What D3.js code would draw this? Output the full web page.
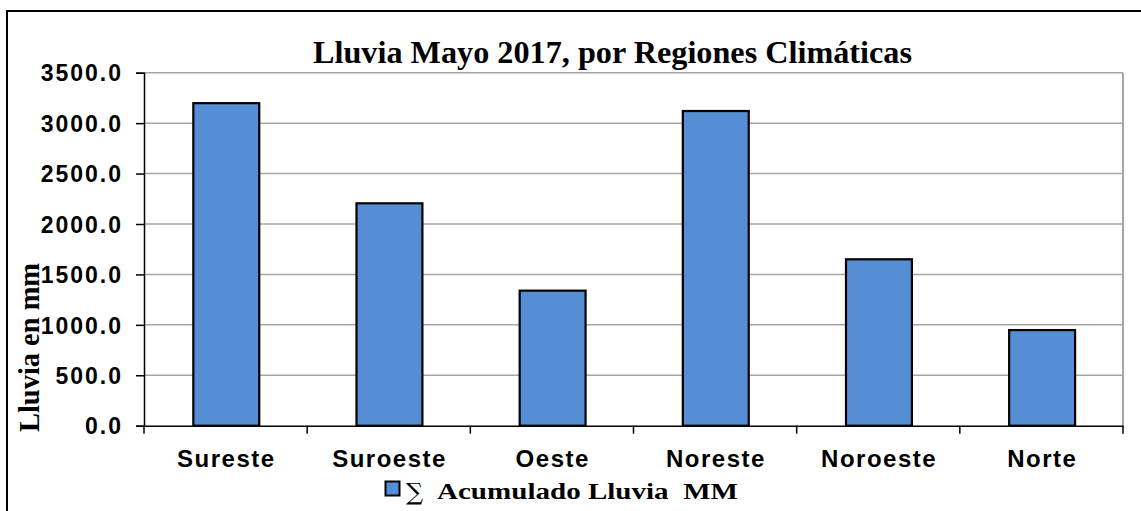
<!DOCTYPE html>
<html>
<head>
<meta charset="utf-8">
<script src="https://cdn.jsdelivr.net/npm/d3@7"></script>
<style>
  html, body { margin: 0; padding: 0; background: #fff; }
  svg { display: block; }
</style>
</head>
<body>
<svg id="chart" width="1141" height="511"></svg>
<script>
const categories = ["Sureste", "Suroeste", "Oeste", "Noreste", "Noroeste", "Norte"];
const values = [3198, 2205, 1339, 3120, 1650, 948];
const yTicks = [0, 500, 1000, 1500, 2000, 2500, 3000, 3500];
const titleText = "Lluvia Mayo 2017, por Regiones Climáticas";
const yTitleText = "Lluvia en mm";
const legendText = "Acumulado Lluvia  MM";

const svg = d3.select("#chart");
const W = 1141, H = 511;
const plot = { left: 144, right: 1123, top: 72.7, bottom: 425.7 };

svg.append("rect").attr("width", W).attr("height", H).attr("fill", "#fff");
// outer chart border (top & left visible)
svg.append("rect")
  .attr("x", 7).attr("y", 11).attr("width", 1300).attr("height", 700)
  .attr("fill", "none").attr("stroke", "#000").attr("stroke-width", 2);

const x = d3.scaleBand().domain(categories).range([plot.left, plot.right]).padding(0);
const y = d3.scaleLinear().domain([0, 3500]).range([plot.bottom, plot.top]);

// gridlines
svg.append("g").selectAll("line").data(yTicks.filter(t => t > 0)).join("line")
  .attr("x1", plot.left).attr("x2", plot.right)
  .attr("y1", d => y(d)).attr("y2", d => y(d))
  .attr("stroke", "#a6a6a6").attr("stroke-width", 1.5);
// right border of plot area
svg.append("line")
  .attr("x1", plot.right).attr("x2", plot.right)
  .attr("y1", plot.top).attr("y2", plot.bottom)
  .attr("stroke", "#a6a6a6").attr("stroke-width", 2);

// bars
const bw = x.bandwidth() * 0.404;
svg.append("g").selectAll("rect").data(categories).join("rect")
  .attr("x", d => x(d) + (x.bandwidth() - bw) / 2 + 0.7)
  .attr("width", bw)
  .attr("y", (d, i) => y(values[i]))
  .attr("height", (d, i) => y(0) - y(values[i]))
  .attr("fill", "#558ed5")
  .attr("stroke", "#000").attr("stroke-width", 2.2);

// y axis
const yAxis = d3.axisLeft(y).tickValues(yTicks).tickSize(8).tickPadding(0).tickFormat(d3.format(".1f"));
const gy = svg.append("g").attr("transform", `translate(${plot.left},0)`).call(yAxis);
gy.select(".domain").attr("stroke", "#000").attr("stroke-width", 1.5);
gy.selectAll(".tick line").attr("stroke", "#000").attr("stroke-width", 1.5);
gy.selectAll(".tick text")
  .attr("x", -21)
  .attr("dy", "0.36em")
  .attr("fill", "#000")
  .style("font-family", "'Liberation Sans', Arial, sans-serif")
  .style("font-weight", "bold")
  .style("font-size", "23px")
  .style("letter-spacing", "2px");

// x axis
const xAxis = d3.axisBottom(x).tickSize(0).tickPadding(0);
const gx = svg.append("g").attr("transform", `translate(0,${plot.bottom})`).call(xAxis);
gx.select(".domain").attr("stroke", "#000").attr("stroke-width", 1.5);
gx.selectAll(".tick text")
  .attr("y", 41.3).attr("dy", null).attr("x", 0.8)
  .attr("fill", "#000")
  .style("font-family", "'Liberation Sans', Arial, sans-serif")
  .style("font-weight", "bold")
  .style("font-size", "24px")
  .style("letter-spacing", "1.5px");
// category boundary ticks
const bounds = categories.map(c => x(c)).concat([plot.right]);
gx.append("g").selectAll("line").data(bounds).join("line")
  .attr("x1", d => d).attr("x2", d => d).attr("y1", 0).attr("y2", 8)
  .attr("stroke", "#000").attr("stroke-width", 1.5);

// title
svg.append("text")
  .attr("x", 612.5).attr("y", 63.3)
  .attr("text-anchor", "middle")
  .attr("textLength", 599).attr("lengthAdjust", "spacingAndGlyphs")
  .style("font-family", "'Liberation Serif', 'Times New Roman', serif")
  .style("font-weight", "bold").style("font-size", "31px")
  .text(titleText);

// y title
svg.append("text")
  .attr("transform", "translate(39,347.5) rotate(-90)")
  .attr("text-anchor", "middle")
  .attr("textLength", 169).attr("lengthAdjust", "spacingAndGlyphs")
  .style("font-family", "'Liberation Serif', 'Times New Roman', serif")
  .style("font-weight", "bold").style("font-size", "28.5px")
  .text(yTitleText);

// legend
svg.append("rect")
  .attr("x", 385.5).attr("y", 481.5).attr("width", 14).attr("height", 14)
  .attr("fill", "#558ed5").attr("stroke", "#000").attr("stroke-width", 2);
svg.append("text")
  .attr("x", 406).attr("y", 500)
  .style("font-family", "'DejaVu Serif', 'Liberation Serif', serif")
  .style("font-size", "24px")
  .text("∑");
svg.append("text")
  .attr("x", 437).attr("y", 499.3)
  .attr("textLength", 301).attr("lengthAdjust", "spacingAndGlyphs")
  .style("white-space", "pre")
  .style("font-family", "'Liberation Serif', 'Times New Roman', serif")
  .style("font-weight", "bold").style("font-size", "24px")
  .text(legendText);
</script>
</body>
</html>
